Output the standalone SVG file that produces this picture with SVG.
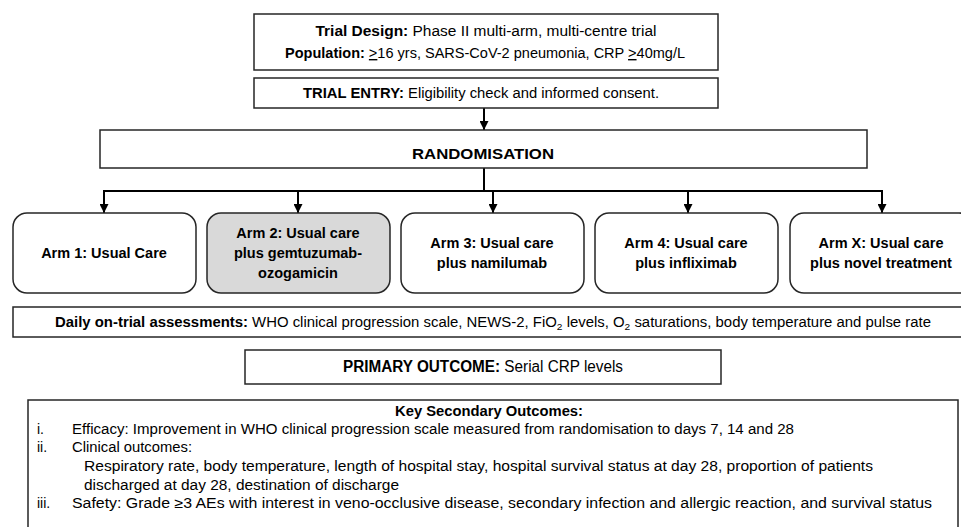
<svg xmlns="http://www.w3.org/2000/svg" width="961" height="527" viewBox="0 0 961 527">
<style>
text{font-family:"Liberation Sans",Arial,sans-serif;fill:#000}
.box{fill:#fff;stroke:#262626;stroke-width:1.5}
.arm{fill:#fff;stroke:#262626;stroke-width:1.5}
.b{font-weight:bold}
.t{font-size:14px}
.k{font-size:14px}
.a{font-size:14.5px;font-weight:bold;text-anchor:middle}
.c{text-anchor:middle}
.line{fill:none;stroke:#000;stroke-width:2}
</style>
<defs>
<marker id="ah" viewBox="0 0 10 10" refX="10" refY="5" markerWidth="4.5" markerHeight="4.5" orient="auto" markerUnits="strokeWidth">
<path d="M0,0 L10,5 L0,10 Z" fill="#000"/>
</marker>
</defs>
<rect width="961" height="527" fill="#fff"/>

<g id="connectors">
<line class="line" x1="484" y1="108" x2="484" y2="130" marker-end="url(#ah)"/>
<path class="line" d="M484,168 V191 M104,191 H882"/>
<line class="line" x1="104" y1="190" x2="104" y2="213" marker-end="url(#ah)"/>
<line class="line" x1="298" y1="190" x2="298" y2="213" marker-end="url(#ah)"/>
<line class="line" x1="493" y1="190" x2="493" y2="213" marker-end="url(#ah)"/>
<line class="line" x1="688" y1="190" x2="688" y2="213" marker-end="url(#ah)"/>
<line class="line" x1="882" y1="190" x2="882" y2="213" marker-end="url(#ah)"/>
</g>

<g id="trial-design">
<rect class="box" x="254" y="14" width="464" height="56"/>
<text class="t c" x="486" y="36" textLength="341" lengthAdjust="spacingAndGlyphs"><tspan class="b">Trial Design:</tspan> Phase II multi-arm, multi-centre trial</text>
<text class="t c" x="485" y="58" textLength="400" lengthAdjust="spacingAndGlyphs"><tspan class="b">Population:</tspan> <tspan text-decoration="underline">&gt;</tspan>16 yrs, SARS-CoV-2 pneumonia, CRP <tspan text-decoration="underline">&gt;</tspan>40mg/L</text>
</g>

<g id="trial-entry">
<rect class="box" x="254" y="78" width="464" height="30"/>
<text class="t c" x="481" y="98" textLength="356" lengthAdjust="spacingAndGlyphs"><tspan class="b">TRIAL ENTRY:</tspan> Eligibility check and informed consent.</text>
</g>

<g id="randomisation">
<rect class="box" x="100" y="130" width="767" height="38"/>
<text class="c b" x="483" y="159" font-size="15.5" textLength="142" lengthAdjust="spacingAndGlyphs">RANDOMISATION</text>
</g>

<g id="arm1">
<rect class="arm" x="13" y="213" width="183" height="80" rx="14"/>
<text class="a" x="104" y="258">Arm 1: Usual Care</text>
</g>
<g id="arm2">
<rect class="arm" x="207" y="213" width="183" height="80" rx="14" style="fill:#d9d9d9"/>
<text class="a" x="298" y="238">Arm 2: Usual care</text>
<text class="a" x="298" y="258">plus gemtuzumab-</text>
<text class="a" x="298" y="278">ozogamicin</text>
</g>
<g id="arm3">
<rect class="arm" x="401" y="213" width="183" height="80" rx="14"/>
<text class="a" x="492" y="248">Arm 3: Usual care</text>
<text class="a" x="492" y="268">plus namilumab</text>
</g>
<g id="arm4">
<rect class="arm" x="595" y="213" width="183" height="80" rx="14"/>
<text class="a" x="686" y="248">Arm 4: Usual care</text>
<text class="a" x="686" y="268">plus infliximab</text>
</g>
<g id="armX">
<rect class="arm" x="790" y="213" width="183" height="80" rx="14"/>
<text class="a" x="881" y="248">Arm X: Usual care</text>
<text class="a" x="881" y="268">plus novel treatment</text>
</g>

<g id="daily">
<rect class="box" x="13" y="307" width="960" height="30"/>
<text x="55" y="327" font-size="14" textLength="876" lengthAdjust="spacingAndGlyphs"><tspan class="b">Daily on-trial assessments:</tspan> WHO clinical progression scale, NEWS-2, FiO<tspan font-size="9.5" dy="3">2</tspan><tspan dy="-3"> levels, O</tspan><tspan font-size="9.5" dy="3">2</tspan><tspan dy="-3"> saturations, body temperature and pulse rate</tspan></text>
</g>

<g id="primary">
<rect class="box" x="245" y="350" width="476" height="34"/>
<text x="343" y="372" font-size="16" textLength="280" lengthAdjust="spacingAndGlyphs"><tspan class="b">PRIMARY OUTCOME:</tspan> Serial CRP levels</text>
</g>

<g id="secondary">
<rect class="box" x="28" y="400" width="930" height="140"/>
<text class="c b k" x="489" y="416" textLength="188" lengthAdjust="spacingAndGlyphs">Key Secondary Outcomes:</text>
<text class="k" x="37" y="434">i.</text>
<text class="k" x="72" y="434" textLength="722" lengthAdjust="spacingAndGlyphs">Efficacy: Improvement in WHO clinical progression scale measured from randomisation to days 7, 14 and 28</text>
<text class="k" x="37" y="452">ii.</text>
<text class="k" x="72" y="452" textLength="120" lengthAdjust="spacingAndGlyphs">Clinical outcomes:</text>
<text class="k" x="84" y="471" textLength="789" lengthAdjust="spacingAndGlyphs">Respiratory rate, body temperature, length of hospital stay, hospital survival status at day 28, proportion of patients</text>
<text class="k" x="84" y="490" textLength="315" lengthAdjust="spacingAndGlyphs">discharged at day 28, destination of discharge</text>
<text class="k" x="37" y="508">iii.</text>
<text class="k" x="72" y="508" textLength="860" lengthAdjust="spacingAndGlyphs">Safety: Grade ≥3 AEs with interest in veno-occlusive disease, secondary infection and allergic reaction, and survival status</text>
</g>
</svg>
